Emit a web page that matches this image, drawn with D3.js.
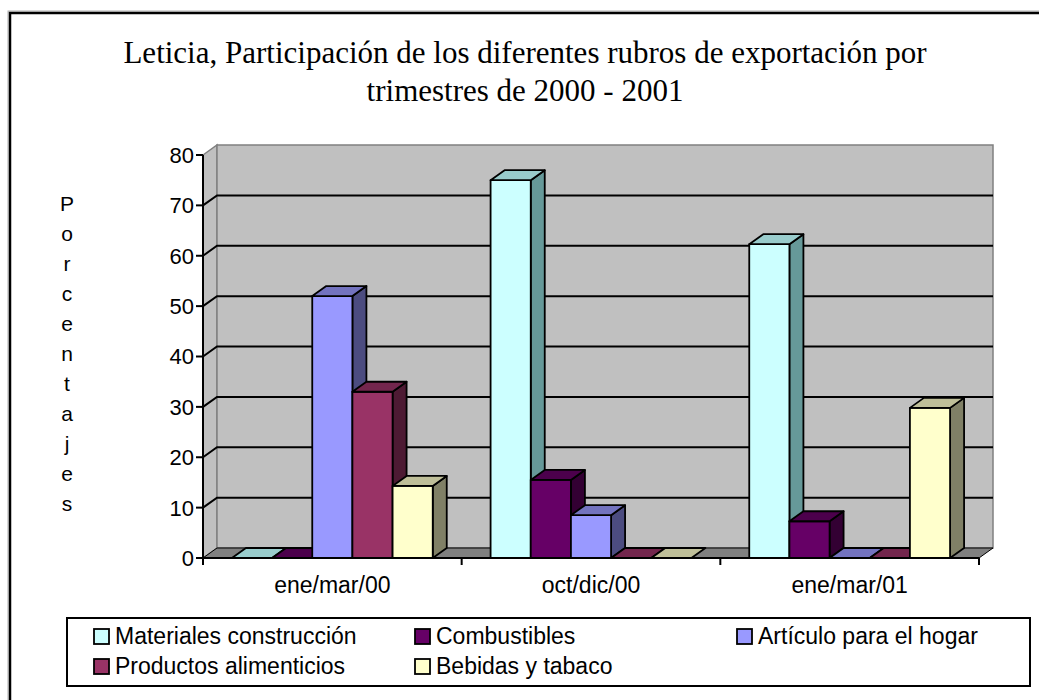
<!DOCTYPE html>
<html>
<head>
<meta charset="utf-8">
<script src="https://cdn.jsdelivr.net/npm/d3@7"></script>
<style>
  body { margin: 0; background: #fff; }
  text { font-family: Arial, "Liberation Sans", sans-serif; }
</style>
</head>
<body>
<script>
// chart data
var categories = ['ene/mar/00', 'oct/dic/00', 'ene/mar/01'];
var series = ['Materiales construcción', 'Combustibles', 'Artículo para el hogar',
              'Productos alimenticios', 'Bebidas y tabaco'];
var materiales = [0, 75, 62.3];
var combustibles = [0, 15.5, 7.3];
var hogar = [52, 8.5, 0];
var alimenticios = [33, 0, 0];
var bebidas = [14.3, 0, 29.8];
var yTicks = [0, 10, 20, 30, 40, 50, 60, 70, 80];
var titleLines = ['Leticia, Participación de los diferentes rubros de exportación por',
                  'trimestres de 2000 - 2001'];
var yLabel = 'Porcentajes';

var values = [materiales, combustibles, hogar, alimenticios, bebidas];

// front / top / side colours of each series
var front = ['#ccffff', '#660066', '#9999ff', '#993366', '#ffffcc'];
var top_ = ['#99cccc', '#4c004c', '#7373bf', '#73264d', '#bfbf99'];
var side = ['#669999', '#330033', '#4c4c80', '#4d1a33', '#808066'];

var width = 1039, height = 700;
var dx = 14, dy = -10; // 3d depth offset

var svg = d3.select('body').append('svg')
  .attr('width', width)
  .attr('height', height);

// outer frame (right and bottom edges fall outside the picture)
svg.append('rect')
  .attr('x', 8).attr('y', 11)
  .attr('width', 1050).attr('height', 700)
  .attr('fill', 'none').attr('stroke', '#b0b0b0').attr('stroke-width', 1);
svg.append('rect')
  .attr('x', 10).attr('y', 13)
  .attr('width', 1050).attr('height', 700)
  .attr('fill', '#fff').attr('stroke', '#000').attr('stroke-width', 2.5);

// title
svg.append('g').selectAll('text')
  .data(titleLines)
  .enter().append('text')
  .attr('x', 525)
  .attr('y', function(d, i) { return 63 + i * 38; })
  .attr('text-anchor', 'middle')
  .style('font-family', '"Liberation Serif", "Times New Roman", serif')
  .style('font-size', '31px')
  .text(function(d) { return d; });

// scales
var x = d3.scaleBand().domain(categories).range([203, 979]);
var y = d3.scaleLinear().domain([0, 80]).range([558, 155]);
var xs = d3.scaleBand().domain(d3.range(series.length))
  .range([0, x.bandwidth()]).paddingOuter(0.72).paddingInner(0);

var x0 = x.range()[0], x1 = x.range()[1], y0 = y(0), yTop = y(80);

// walls and floor
svg.append('polygon') // left side wall
  .attr('points', [[x0, yTop], [x0 + dx, yTop + dy], [x0 + dx, y0 + dy], [x0, y0]].join(' '))
  .attr('fill', '#c0c0c0').attr('stroke', '#808080').attr('stroke-width', 1.5);
svg.append('rect') // back wall
  .attr('x', x0 + dx).attr('y', yTop + dy)
  .attr('width', x1 - x0).attr('height', y0 - yTop)
  .attr('fill', '#c0c0c0').attr('stroke', '#808080').attr('stroke-width', 1.5);
svg.append('polygon') // floor
  .attr('points', [[x0, y0], [x0 + dx, y0 + dy], [x1 + dx, y0 + dy], [x1, y0]].join(' '))
  .attr('fill', '#808080').attr('stroke', '#000').attr('stroke-width', 1);

// gridlines
var grid = svg.append('g');
yTicks.filter(function(t) { return t > 0 && t < 80; }).forEach(function(t) {
  grid.append('polyline')
    .attr('points', [[x0, y(t)], [x0 + dx, y(t) + dy], [x1 + dx, y(t) + dy]].join(' '))
    .attr('fill', 'none').attr('stroke', '#000').attr('stroke-width', 2);
});

// bars, drawn left to right so each front face hides the previous side
var bars = svg.append('g');
categories.forEach(function(c, ci) {
  values.forEach(function(vals, si) {
    var v = vals[ci];
    var bx = x(c) + xs(si), bw = xs.bandwidth(), by = y(v);
    var g = bars.append('g')
      .attr('stroke', '#000').attr('stroke-width', 1.8).attr('stroke-linejoin', 'round');
    if (v > 0) {
      g.append('polygon')
        .attr('points', [[bx + bw, by], [bx + bw + dx, by + dy], [bx + bw + dx, y0 + dy], [bx + bw, y0]].join(' '))
        .attr('fill', side[si]);
      g.append('rect')
        .attr('x', bx).attr('y', by).attr('width', bw).attr('height', y0 - by)
        .attr('fill', front[si]);
    }
    g.append('polygon')
      .attr('points', [[bx, by], [bx + dx, by + dy], [bx + bw + dx, by + dy], [bx + bw, by]].join(' '))
      .attr('fill', top_[si]);
  });
});

// y axis
var yAxis = svg.append('g');
yAxis.append('line')
  .attr('x1', x0).attr('x2', x0).attr('y1', yTop).attr('y2', y0)
  .attr('stroke', '#000').attr('stroke-width', 2);
yTicks.forEach(function(t) {
  yAxis.append('line')
    .attr('x1', x0 - 7).attr('x2', x0).attr('y1', y(t)).attr('y2', y(t))
    .attr('stroke', '#000').attr('stroke-width', 2);
  yAxis.append('text')
    .attr('x', x0 - 9).attr('y', y(t)).attr('dy', '0.36em')
    .attr('text-anchor', 'end')
    .style('font-size', '22px')
    .text(t);
});

// x axis
var xAxis = svg.append('g');
xAxis.append('line')
  .attr('x1', x0).attr('x2', x1).attr('y1', y0).attr('y2', y0)
  .attr('stroke', '#000').attr('stroke-width', 2);
categories.concat(['end']).forEach(function(c, i) {
  var tx = i < categories.length ? x(c) : x1;
  xAxis.append('line')
    .attr('x1', tx).attr('x2', tx).attr('y1', y0).attr('y2', y0 + 7)
    .attr('stroke', '#000').attr('stroke-width', 2);
});
categories.forEach(function(c) {
  xAxis.append('text')
    .attr('x', x(c) + x.bandwidth() / 2).attr('y', 593)
    .attr('text-anchor', 'middle')
    .style('font-size', '23px')
    .text(c);
});

// stacked y label
svg.append('g').selectAll('text')
  .data(yLabel.split(''))
  .enter().append('text')
  .attr('x', 67)
  .attr('y', function(d, i) { return 203 + i * 30; })
  .attr('dy', '0.36em')
  .attr('text-anchor', 'middle')
  .style('font-size', '21px')
  .text(function(d) { return d; });

// legend
var legend = svg.append('g');
legend.append('rect')
  .attr('x', 67).attr('y', 618).attr('width', 963).attr('height', 68)
  .attr('fill', '#fff').attr('stroke', '#000').attr('stroke-width', 2);
var legCols = [94, 415, 737], legRows = [636, 666];
series.forEach(function(s, i) {
  var lx = legCols[i % 3], ly = legRows[Math.floor(i / 3)];
  legend.append('rect')
    .attr('x', lx).attr('y', ly - 7).attr('width', 15).attr('height', 15)
    .attr('fill', front[i]).attr('stroke', '#000').attr('stroke-width', 1.8);
  legend.append('text')
    .attr('x', lx + 21).attr('y', ly).attr('dy', '0.36em')
    .style('font-size', '23px')
    .text(s);
});
</script>
</body>
</html>
